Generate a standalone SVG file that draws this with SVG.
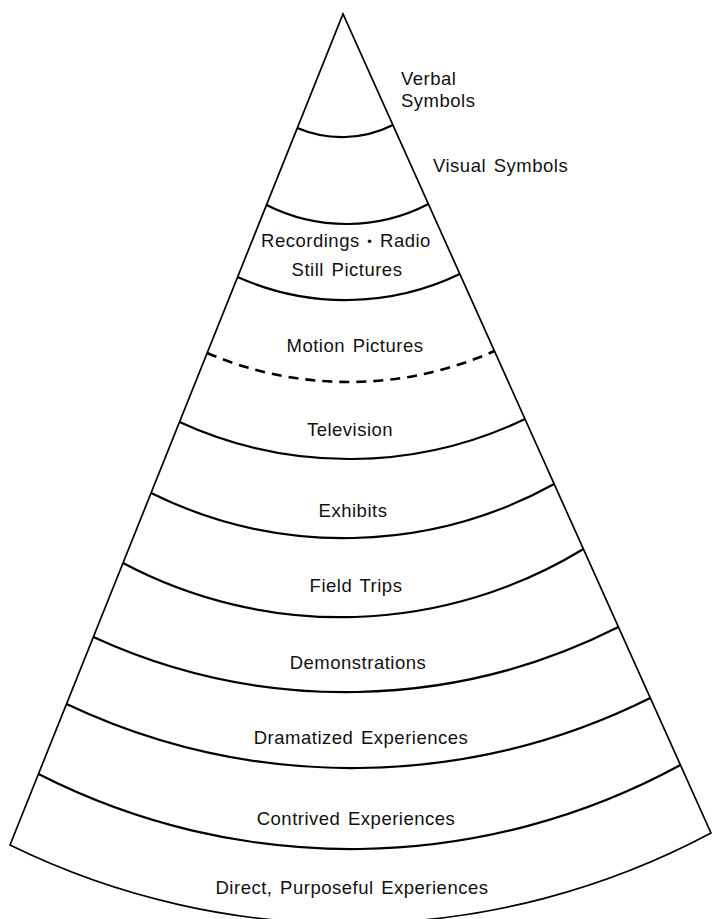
<svg xmlns="http://www.w3.org/2000/svg" width="712" height="919" viewBox="0 0 712 919">
  <style>
    .outline { fill: none; stroke: #000; stroke-width: 1.7; stroke-linejoin: miter; }
    .div { fill: none; stroke: #000; stroke-width: 2.2; stroke-linecap: butt; }
    .dash { fill: none; stroke: #000; stroke-width: 2.6; stroke-dasharray: 10 7; }
    text { font-family: "Liberation Sans", Arial, Helvetica, sans-serif; font-size: 18.5px; fill: #111; letter-spacing: 0.5px; word-spacing: 2px; }
    .c { text-anchor: middle; }
    .dot { font-size: 13px; }
  </style>
  <rect width="712" height="919" fill="#fff"/>

  <g id="cone">
    <path class="outline" d="M10,845 L343,14 L711,833 A769.5,769.5 0 0 1 10,845 Z"/>
  </g>

  <g id="dividers">
    <path class="div" d="M297.3,128 A114,114 0 0 0 392.9,125"/>
    <path class="div" d="M266.5,205 A177.8,177.8 0 0 0 428.4,204"/>
    <path class="div" d="M237.6,277 A264,264 0 0 0 459.8,274"/>
    <path class="dash" d="M207.2,353 A358.7,358.7 0 0 0 494.4,351"/>
    <path class="div" d="M179.5,422 A406.8,406.8 0 0 0 525,419"/>
    <path class="div" d="M151.1,493 A435.3,435.3 0 0 0 554.2,484"/>
    <path class="div" d="M123,563 A465.2,465.2 0 0 0 583.4,549"/>
    <path class="div" d="M93.4,637 A604.4,604.4 0 0 0 618.4,627"/>
    <path class="div" d="M66.5,704 A669.4,669.4 0 0 0 650.3,698"/>
    <path class="div" d="M38.5,774 A687.8,687.8 0 0 0 680.4,765"/>
  </g>

  <g id="verbal-symbols">
    <text x="401" y="85">Verbal</text>
    <text x="401" y="107">Symbols</text>
  </g>
  <g id="visual-symbols">
    <text x="433" y="172">Visual Symbols</text>
  </g>
  <g id="recordings-radio-still-pictures">
    <text class="c" x="346" y="247">Recordings <tspan class="dot" dy="-1">•</tspan><tspan dy="1"> Radio</tspan></text>
    <text class="c" x="347" y="276">Still Pictures</text>
  </g>
  <g id="motion-pictures">
    <text class="c" x="355" y="352">Motion Pictures</text>
  </g>
  <g id="television">
    <text class="c" x="350" y="436">Television</text>
  </g>
  <g id="exhibits">
    <text class="c" x="353" y="517">Exhibits</text>
  </g>
  <g id="field-trips">
    <text class="c" x="356" y="592">Field Trips</text>
  </g>
  <g id="demonstrations">
    <text class="c" x="358" y="669">Demonstrations</text>
  </g>
  <g id="dramatized-experiences">
    <text class="c" x="361" y="744">Dramatized Experiences</text>
  </g>
  <g id="contrived-experiences">
    <text class="c" x="356" y="825">Contrived Experiences</text>
  </g>
  <g id="direct-purposeful-experiences">
    <text class="c" x="352" y="894">Direct, Purposeful Experiences</text>
  </g>
</svg>
